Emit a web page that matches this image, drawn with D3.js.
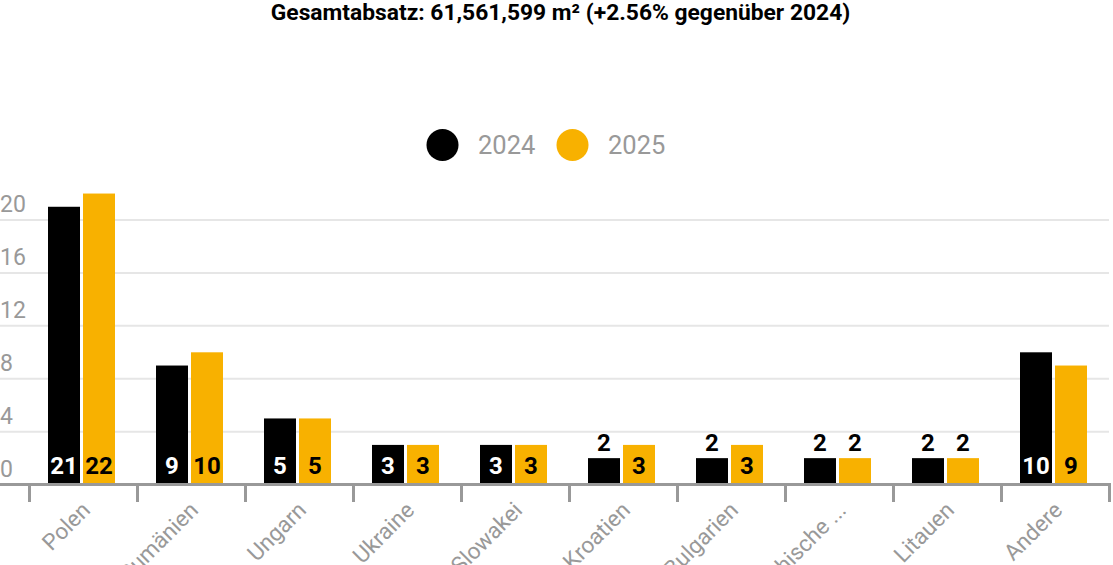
<!DOCTYPE html>
<html>
<head>
<meta charset="utf-8">
<script src="https://cdn.jsdelivr.net/npm/d3@7"></script>
<style>
  html, body { margin: 0; padding: 0; background: #fff; }
  svg { display: block; font-family: Roboto, "Noto Sans", sans-serif; }
</style>
</head>
<body>
<svg id="chart" width="1113" height="565"></svg>
<script>
const titleText = "Gesamtabsatz: 61,561,599 m² (+2.56% gegenüber 2024)";
const categories = ["Polen", "Rumänien", "Ungarn", "Ukraine", "Slowakei", "Kroatien", "Bulgarien", "Tschechische ...", "Litauen", "Andere"];
const seriesNames = ["2024", "2025"];
const values2024 = [21, 9, 5, 3, 3, 2, 2, 2, 2, 10];
const values2025 = [22, 10, 5, 3, 3, 3, 3, 2, 2, 9];
const yTicks = [0, 4, 8, 12, 16, 20];
const seriesColors = ["#000000", "#f8b100"];

const W = 1113, H = 565;
const svg = d3.select("#chart");

const left = 29, right = 1109, zeroY = 484.6, topY20 = 220;

const x0 = d3.scaleBand().domain(categories).range([left, right]).padding(0);
const x1 = d3.scaleBand().domain(seriesNames).range([19, 86]).paddingInner(3 / 35).paddingOuter(0);
const y = d3.scaleLinear().domain([0, 20]).range([zeroY, topY20]);

// Title
svg.append("text")
  .attr("x", W / 2 + 4).attr("y", 20)
  .attr("text-anchor", "middle")
  .attr("font-size", 22.8).attr("font-weight", 700)
  .attr("fill", "#000")
  .text(titleText);

// Legend
const legendItems = [
  { name: seriesNames[0], cx: 442.5, tx: 478 },
  { name: seriesNames[1], cx: 572.5, tx: 608 }
];
legendItems.forEach((d, i) => {
  svg.append("circle").attr("cx", d.cx).attr("cy", 145).attr("r", 16).attr("fill", seriesColors[i]);
  svg.append("text").attr("x", d.tx).attr("y", 153.5)
    .attr("font-size", 25.5).attr("fill", "#999").text(d.name);
});

// Gridlines
svg.append("g").selectAll("line").data(yTicks.filter(t => t > 0)).join("line")
  .attr("x1", 0).attr("x2", right)
  .attr("y1", d => y(d)).attr("y2", d => y(d))
  .attr("stroke", "#e6e6e6").attr("stroke-width", 2);

// Y labels
svg.append("g").selectAll("text").data(yTicks).join("text")
  .attr("x", 0).attr("y", d => y(d) - 8)
  .attr("font-size", 23).attr("fill", "#999")
  .text(d => d);

// Bars
const data = categories.map((c, i) => ({ cat: c, vals: [values2024[i], values2025[i]] }));
const groups = svg.append("g").selectAll("g").data(data).join("g")
  .attr("transform", d => `translate(${x0(d.cat)},0)`);

groups.selectAll("rect").data(d => d.vals.map((v, j) => ({ v, s: seriesNames[j], j }))).join("rect")
  .attr("x", d => x1(d.s)).attr("width", x1.bandwidth())
  .attr("y", d => y(d.v)).attr("height", d => zeroY - y(d.v))
  .attr("fill", d => seriesColors[d.j]);

groups.selectAll("text").data(d => d.vals.map((v, j) => ({ v, s: seriesNames[j], j }))).join("text")
  .attr("x", d => x1(d.s) + x1.bandwidth() / 2)
  .attr("y", d => (zeroY - y(d.v)) > 32 ? zeroY - 10.5 : y(d.v) - 7)
  .attr("text-anchor", "middle")
  .attr("font-size", 24).attr("font-weight", 700)
  .attr("fill", d => ((zeroY - y(d.v)) > 32 && d.j === 0) ? "#fff" : "#000")
  .text(d => d3.format("d")(d.v));

// X axis line
svg.append("line").attr("x1", 0).attr("x2", 1111).attr("y1", zeroY).attr("y2", zeroY)
  .attr("stroke", "#999").attr("stroke-width", 3);

// X ticks at band boundaries
const tickPos = categories.map(c => x0(c)).concat([right]);
svg.append("g").selectAll("line").data(tickPos).join("line")
  .attr("x1", d => d + 0.5).attr("x2", d => d + 0.5)
  .attr("y1", zeroY).attr("y2", 502)
  .attr("stroke", "#999").attr("stroke-width", 3);

// Category labels
svg.append("g").selectAll("text").data(categories).join("text")
  .attr("transform", d => `translate(${x0(d) + x0.bandwidth() / 2 + 3},${506}) rotate(-45)`)
  .attr("text-anchor", "end")
  .attr("dy", "0.35em")
  .attr("font-size", 22.5).attr("fill", "#999")
  .text(d => d);
</script>
</body>
</html>
